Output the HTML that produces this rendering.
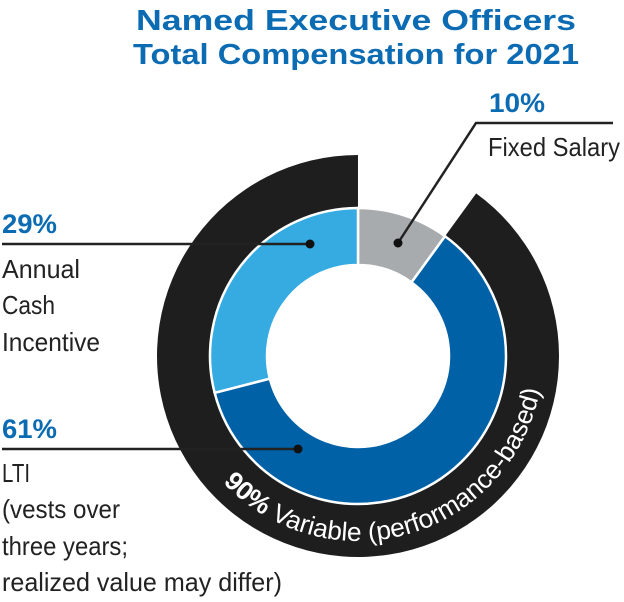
<!DOCTYPE html>
<html><head><meta charset="utf-8"><style>
html,body{margin:0;padding:0;background:#fff;}
svg{display:block;font-family:"Liberation Sans",sans-serif;}
</style></head><body>
<svg id="chart" width="624" height="602" viewBox="0 0 624 602">
<text x="356" y="30" text-anchor="middle" font-size="29" font-weight="bold" fill="#0b6bb3" textLength="440" lengthAdjust="spacingAndGlyphs">Named Executive Officers</text>
<text x="356" y="64" text-anchor="middle" font-size="29" font-weight="bold" fill="#0b6bb3" textLength="446" lengthAdjust="spacingAndGlyphs">Total Compensation for 2021</text>
<g id="rings"></g>
<g id="labels" fill="#222" font-size="26">
<text x="489" y="112" font-weight="bold" fill="#0b6bb3" font-size="27" textLength="56" lengthAdjust="spacingAndGlyphs">10%</text>
<text x="488" y="156" textLength="132" lengthAdjust="spacingAndGlyphs">Fixed Salary</text>
<text x="2" y="233" font-weight="bold" fill="#0b6bb3" font-size="27" textLength="55" lengthAdjust="spacingAndGlyphs">29%</text>
<text x="2" y="278" textLength="78" lengthAdjust="spacingAndGlyphs">Annual</text>
<text x="2" y="314" textLength="53" lengthAdjust="spacingAndGlyphs">Cash</text>
<text x="2" y="351" textLength="98" lengthAdjust="spacingAndGlyphs">Incentive</text>
<text x="2" y="438" font-weight="bold" fill="#0b6bb3" font-size="27" textLength="55" lengthAdjust="spacingAndGlyphs">61%</text>
<text x="2" y="482" textLength="28" lengthAdjust="spacingAndGlyphs">LTI</text>
<text x="2" y="518" textLength="118" lengthAdjust="spacingAndGlyphs">(vests over</text>
<text x="2" y="555" textLength="126" lengthAdjust="spacingAndGlyphs">three years;</text>
<text x="2" y="591" textLength="280" lengthAdjust="spacingAndGlyphs">realized value may differ)</text>
</g>
</svg>
<script>
const categories = ["Fixed Salary", "LTI", "Annual Cash Incentive"];
const values = [10, 61, 29];
const variableShare = [90];
const NS = "http://www.w3.org/2000/svg";
const cx = 358, cy = 356, rIn = 91, rOut = 148, rBlkOut = 201, rText = 185;
const colors = ["#a8abae", "#0061a6", "#35abe2"];
const total = values.reduce((a, b) => a + b, 0);
function ang(v) { return v / total * 2 * Math.PI; }
function pt(a, r) { return [cx + r * Math.sin(a), cy - r * Math.cos(a)]; }
function arcPath(a0, a1, r0, r1) {
  const large = (a1 - a0) > Math.PI ? 1 : 0;
  const p0 = pt(a0, r1), p1 = pt(a1, r1), p2 = pt(a1, r0), p3 = pt(a0, r0);
  return `M${p0}A${r1},${r1} 0 ${large} 1 ${p1}L${p2}A${r0},${r0} 0 ${large} 0 ${p3}Z`;
}
const g = document.getElementById("rings");
const varStart = 2 * Math.PI * (1 - variableShare[0] / 100);
const blk = document.createElementNS(NS, "path");
blk.setAttribute("d", arcPath(varStart, 2 * Math.PI - 0.0001, rOut - 2, rBlkOut));
blk.setAttribute("fill", "#1e1e1e");


g.appendChild(blk);
let acc = 0;
values.forEach((v, i) => {
  const a0 = ang(acc), a1 = ang(acc + v);
  acc += v;
  const p = document.createElementNS(NS, "path");
  p.setAttribute("d", arcPath(a0, a1, rIn, rOut));
  p.setAttribute("fill", colors[i]);
  p.setAttribute("stroke", "#fff");
  p.setAttribute("stroke-width", "2.5");
  
  
  g.appendChild(p);
});
const defs = document.createElementNS(NS, "defs");
const tp = document.createElementNS(NS, "path");
tp.setAttribute("id", "ringTextPath");
const s = pt(230 * Math.PI / 180, rText), e = pt(80 * Math.PI / 180, rText);
tp.setAttribute("d", `M${s}A${rText},${rText} 0 0 0 ${e}`);
defs.appendChild(tp);
g.appendChild(defs);
const rt = document.createElementNS(NS, "text");
rt.setAttribute("fill", "#fff");
rt.setAttribute("font-size", "26");


const tpe = document.createElementNS(NS, "textPath");
tpe.setAttribute("href", "#ringTextPath");
tpe.setAttribute("startOffset", "10");
tpe.setAttribute("textLength", "408");
tpe.setAttribute("lengthAdjust", "spacingAndGlyphs");
tpe.innerHTML = '<tspan font-weight="bold">' + variableShare[0] + '%</tspan> Variable (performance-based)';
rt.appendChild(tpe);
g.appendChild(rt);
const svg = document.getElementById("chart");
function line(pts, name) {
  const pl = document.createElementNS(NS, "polyline");
  pl.setAttribute("points", pts.map(p => p.join(",")).join(" "));
  pl.setAttribute("fill", "none");
  pl.setAttribute("stroke", "#222");
  pl.setAttribute("stroke-width", "2.5");
  
  
  svg.appendChild(pl);
}
function dot(p, name) {
  const c = document.createElementNS(NS, "circle");
  c.setAttribute("cx", p[0]); c.setAttribute("cy", p[1]); c.setAttribute("r", 4.5);
  c.setAttribute("fill", "#111");
  
  
  svg.appendChild(c);
}
const d0 = [398, 243], d1 = [298, 449], d2 = [310, 244];
line([d0, [476, 123], [613, 123]], "fixed-salary-leader-line");
dot(d0, "fixed-salary-dot");
line([[2, 449], d1], "lti-leader-line");
dot(d1, "lti-dot");
line([[2, 244], d2], "aci-leader-line");
dot(d2, "aci-dot");
</script>
</body></html>
